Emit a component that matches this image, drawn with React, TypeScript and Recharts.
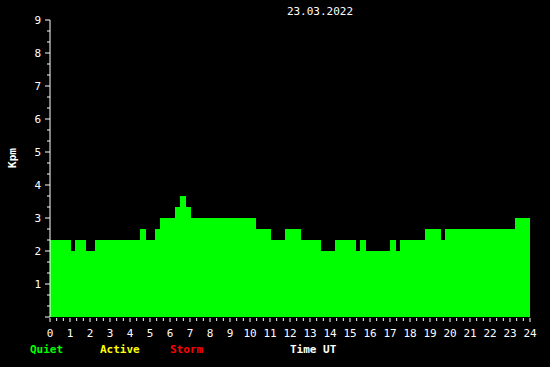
import { AreaChart, Area, XAxis, YAxis } from 'recharts';

// Kpm index, step values starting at each time (hours UT)
const times = [
  0, 1.05, 1.25, 1.8, 2.25, 4.5, 4.8, 5.25, 5.5, 6.25, 6.5, 6.8, 7.05,
  10.3, 11.05, 11.75, 12.55, 13.55, 14.25, 15.3, 15.5, 15.8, 17.0, 17.3,
  17.5, 18.75, 19.55, 19.75, 23.25, 24,
];
const kpm = [
  2.33, 2.0, 2.33, 2.0, 2.33, 2.67, 2.33, 2.67, 3.0, 3.33, 3.67, 3.33, 3.0,
  2.67, 2.33, 2.67, 2.33, 2.0, 2.33, 2.0, 2.33, 2.0, 2.33, 2.0,
  2.33, 2.67, 2.33, 2.67, 3.0, 3.0,
];

// ticks every 20 minutes / every third of a unit
const xTicks = Array.from({ length: 73 }, (_, i) => i / 3);
const yTicks = Array.from({ length: 28 }, (_, i) => i / 3);

const title = '23.03.2022';
const legendItems = [
  { label: 'Quiet', color: '#00ff00', x: 30 },
  { label: 'Active', color: '#ffff00', x: 100 },
  { label: 'Storm', color: '#ff0000', x: 170 },
];

const data = times.map((t, i) => ({ t, kpm: kpm[i] }));

const FONT = '"DejaVu Sans Mono", monospace';
const isWhole = (v: number) => Math.abs(v - Math.round(v)) < 1e-6;

const XTick = ({ x, y, payload }: any) => {
  const major = isWhole(payload.value);
  return (
    <g>
      <line x1={x} x2={x} y1={y + 1} y2={y + (major ? 5 : 4)} stroke="#fff" />
      {major && (
        <text x={x} y={y + 20} textAnchor="middle" fill="#fff" fontSize={11} fontFamily={FONT}>
          {Math.round(payload.value)}
        </text>
      )}
    </g>
  );
};

const YTick = ({ x, y, payload }: any) => {
  const major = isWhole(payload.value);
  const v = Math.round(payload.value);
  return (
    <g>
      <line x1={x - (major ? 5 : 3)} x2={x} y1={y} y2={y} stroke="#fff" />
      {major && v > 0 && (
        <text x={x - 9} y={y + 4} textAnchor="end" fill="#fff" fontSize={11} fontFamily={FONT}>
          {v}
        </text>
      )}
    </g>
  );
};

export default function App() {
  return (
    <div style={{ position: 'absolute', left: 0, top: 0, width: 550, height: 367, background: '#000', fontFamily: FONT }}>
      <AreaChart width={550} height={367} data={data} margin={{ top: 20, right: 20, bottom: 20, left: 20 }}>
        <XAxis
          dataKey="t"
          type="number"
          domain={[0, 24]}
          ticks={xTicks}
          interval={0}
          height={30}
          axisLine={false}
          tickLine={false}
          tickSize={0}
          tickMargin={0}
          tick={<XTick />}
          allowDataOverflow
        />
        <YAxis
          type="number"
          domain={[0, 9]}
          ticks={yTicks}
          interval={0}
          width={30}
          axisLine={{ stroke: '#fff' }}
          tickLine={false}
          tickSize={0}
          tickMargin={0}
          tick={<YTick />}
        />
        <Area
          type="stepAfter"
          dataKey="kpm"
          stroke="none"
          fill="#00ff00"
          fillOpacity={1}
          isAnimationActive={false}
        />
      </AreaChart>
      <div style={{ position: 'absolute', left: 0, width: 640, top: 5, textAlign: 'center', color: '#fff', fontSize: 11 }}>
        {title}
      </div>
      <div
        style={{
          position: 'absolute', left: 12, top: 158, color: '#fff', fontSize: 11, fontWeight: 'bold',
          transform: 'translate(-50%, -50%) rotate(-90deg)', whiteSpace: 'nowrap',
        }}
      >
        Kpm
      </div>
      {legendItems.map((it) => (
        <div key={it.label} style={{ position: 'absolute', left: it.x, top: 343, color: it.color, fontSize: 11, fontWeight: 'bold' }}>
          {it.label}
        </div>
      ))}
      <div style={{ position: 'absolute', left: 290, top: 343, color: '#fff', fontSize: 11, fontWeight: 'bold' }}>
        Time UT
      </div>
    </div>
  );
}
